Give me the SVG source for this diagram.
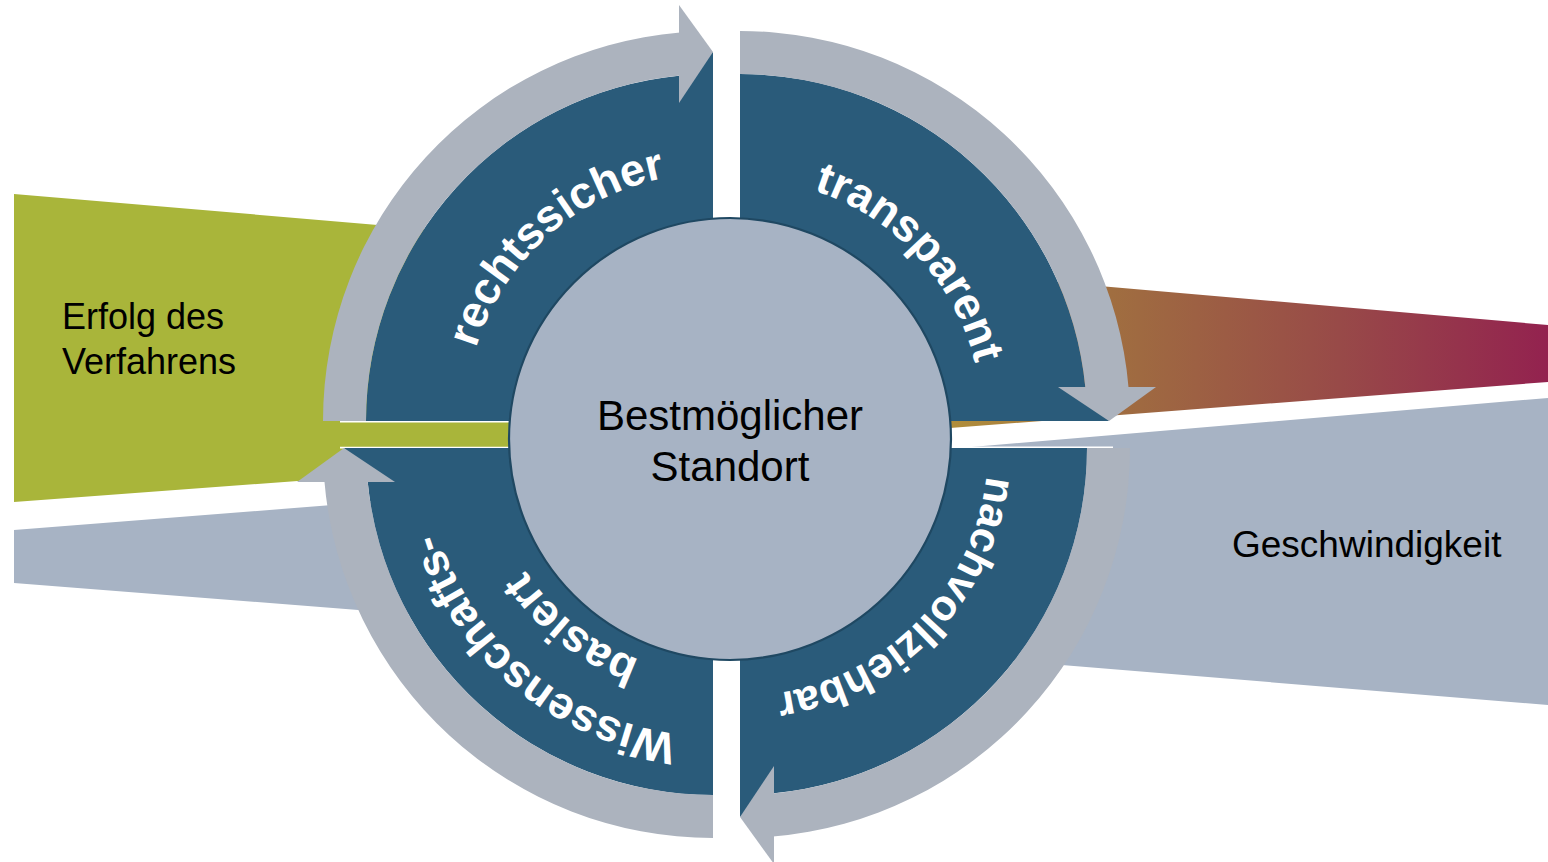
<svg xmlns="http://www.w3.org/2000/svg" width="1548" height="862" viewBox="0 0 1548 862">
<style>
.dark{fill:#2a5b7a}
.arr{fill:#acb3be}
.lbl{font-family:"Liberation Sans",Arial,sans-serif;font-weight:bold;font-size:45px;fill:#ffffff}
.txt{font-family:"Liberation Sans",Arial,sans-serif;font-size:36px;fill:#000000}
.gapline{stroke:#ffffff;stroke-width:1.6;fill:none}
</style>
<defs>
<linearGradient id="gOrange" gradientUnits="userSpaceOnUse" x1="950" y1="0" x2="1548" y2="0">
<stop offset="0" stop-color="#b08e3b"/>
<stop offset="0.27" stop-color="#a06e40"/>
<stop offset="0.65" stop-color="#984a48"/>
<stop offset="1" stop-color="#93224f"/>
</linearGradient>
<g id="quad">
<path class="dark" d="M0,0 L-347,0 A347,347 0 0 1 -34,-345.3 L0,-369 Z"/>
<path class="arr" d="M-390,0 A390,390 0 0 1 -33,-388.6 L-33,-345.4 A347,347 0 0 0 -347,0 Z"/>
<path class="arr" d="M-34,-416 L0,-369 L-34,-318 Z"/>
</g>
<path id="pTL" d="M470.4,472.6 A248,248 0 0 1 789.6,185.1"/>
<path id="pTR" d="M685.6,185.2 A242,242 0 0 1 971.4,491.8"/>
<path id="pBR" d="M978.4,379.6 A248,248 0 0 1 680,688.6"/>
<path id="pBL1" d="M811.5,718.6 A288,288 0 0 1 429.4,398"/>
<path id="pBL2" d="M796.9,655.7 A224,224 0 0 1 491.2,416.8"/>
</defs>

<g id="wedge-erfolg">
<polygon points="14,194 730,255 730,449 14,502" fill="#a9b53a"/>
<text class="txt" x="62" y="329">Erfolg des</text>
<text class="txt" x="62" y="374">Verfahrens</text>
</g>
<g id="wedge-left-gray">
<polygon points="14,530 600,484 600,629 14,583" fill="#a7b3c4"/>
</g>
<g id="wedge-orange">
<polygon points="950,273 1548,325 1548,382 950,428" fill="url(#gOrange)"/>
</g>
<g id="wedge-geschwindigkeit">
<polygon points="960,448 1548,398 1548,705 1000,660" fill="#a7b3c4"/>
<text class="txt" x="1232" y="557" style="font-size:37px">Geschwindigkeit</text>
</g>

<g id="connectors">
<line class="gapline" x1="340" y1="421.8" x2="510" y2="421.8"/>
<line class="gapline" x1="340" y1="447.6" x2="510" y2="447.6"/>
<line class="gapline" x1="950" y1="447.4" x2="1113" y2="447.4"/>
</g>

<g id="q-rechtssicher">
<use href="#quad" transform="translate(713,421)"/>
<text class="lbl"><textPath href="#pTL" startOffset="50%" text-anchor="middle">rechtssicher</textPath></text>
</g>
<g id="q-transparent">
<use href="#quad" transform="translate(740,421) rotate(90)"/>
<text class="lbl"><textPath href="#pTR" startOffset="50%" text-anchor="middle">transparent</textPath></text>
</g>
<g id="q-nachvollziehbar">
<use href="#quad" transform="translate(740,448) rotate(180)"/>
<text class="lbl" style="font-size:43px"><textPath href="#pBR" startOffset="50%" text-anchor="middle">nachvollziehbar</textPath></text>
</g>
<g id="q-wissenschaftsbasiert">
<use href="#quad" transform="translate(713,448) rotate(270)"/>
<text class="lbl"><textPath href="#pBL1" startOffset="50%" text-anchor="middle">Wissenschafts-</textPath></text>
<text class="lbl"><textPath href="#pBL2" startOffset="50%" text-anchor="middle">basiert</textPath></text>
</g>

<g id="center">
<circle cx="730" cy="439" r="221" fill="#a7b3c4" stroke="#1f4862" stroke-width="2.2"/>
<text class="txt" x="730" y="430" text-anchor="middle" style="font-size:42px">Bestmöglicher</text>
<text class="txt" x="730" y="481" text-anchor="middle" style="font-size:42px">Standort</text>
</g>
</svg>
